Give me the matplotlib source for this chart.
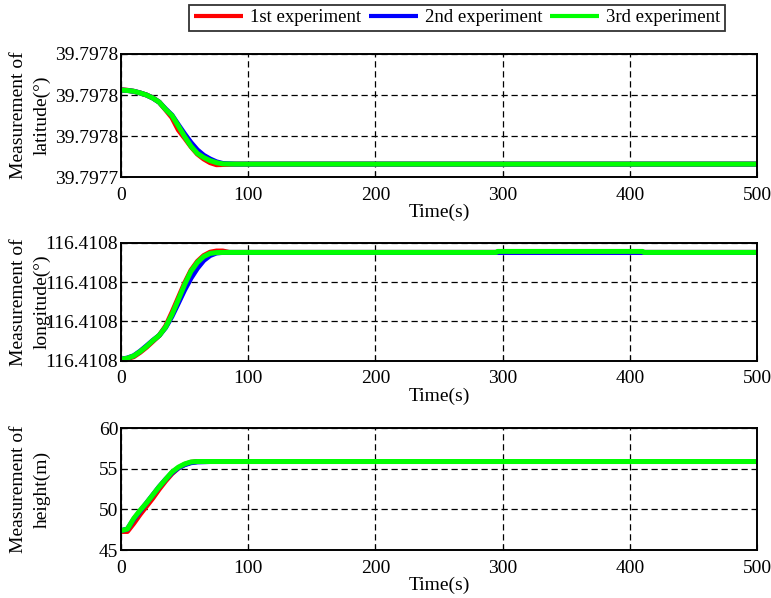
import numpy as np
import matplotlib
matplotlib.use("Agg")
import matplotlib.pyplot as plt
from matplotlib.ticker import FormatStrFormatter

plt.rcParams['font.family'] = ['Liberation Serif', 'DejaVu Serif']

labels = ['1st experiment', '2nd experiment', '3rd experiment']
colors = ['#ff0000', '#0000ff', '#00ff00']

# latitude (deg)
t_lat = [0, 5, 10, 15, 20, 25, 30, 35, 40, 45, 50, 55, 60, 65, 70, 75, 80, 90, 500]
lat_1 = [39.7977826, 39.7977823, 39.7977818, 39.7977810, 39.7977800, 39.7977786, 39.7977765,
         39.7977728, 39.7977690, 39.7977630, 39.7977590, 39.7977548, 39.7977512, 39.7977488,
         39.7977470, 39.7977460, 39.7977461, 39.7977463, 39.7977463]
lat_2 = [39.7977824, 39.7977822, 39.7977818, 39.7977810, 39.7977800, 39.7977785, 39.7977765,
         39.7977732, 39.7977702, 39.7977655, 39.7977610, 39.7977568, 39.7977532, 39.7977506,
         39.7977488, 39.7977474, 39.7977466, 39.7977463, 39.7977463]
lat_3 = [39.7977824, 39.7977822, 39.7977818, 39.7977810, 39.7977800, 39.7977785, 39.7977765,
         39.7977730, 39.7977700, 39.7977650, 39.7977597, 39.7977550, 39.7977515, 39.7977495,
         39.7977480, 39.7977470, 39.7977464, 39.7977463, 39.7977463]

# longitude (deg)
t_lon = [0, 5, 10, 15, 20, 25, 30, 35, 40, 45, 50, 55, 60, 65, 70, 75, 80, 85, 295, 296, 410, 411, 500]
lon_1 = [116.4107605, 116.4107610, 116.4107620, 116.4107642, 116.4107668, 116.4107698, 116.4107728,
         116.4107775, 116.4107845, 116.4107920, 116.4107995, 116.4108060, 116.4108105, 116.4108135,
         116.4108152, 116.4108158, 116.4108158, 116.4108151, 116.4108151, 116.4108151, 116.4108151,
         116.4108151, 116.4108151]
lon_2 = [116.4107607, 116.4107613, 116.4107625, 116.4107648, 116.4107675, 116.4107703, 116.4107728,
         116.4107768, 116.4107825, 116.4107892, 116.4107960, 116.4108020, 116.4108070, 116.4108110,
         116.4108135, 116.4108148, 116.4108151, 116.4108151, 116.4108151, 116.4108151, 116.4108151,
         116.4108151, 116.4108151]
lon_3 = [116.4107607, 116.4107612, 116.4107624, 116.4107646, 116.4107672, 116.4107702, 116.4107728,
         116.4107770, 116.4107834, 116.4107910, 116.4107988, 116.4108055, 116.4108100, 116.4108130,
         116.4108146, 116.4108150, 116.4108151, 116.4108151, 116.4108151, 116.4108156, 116.4108156,
         116.4108151, 116.4108151]

# height (m)
t_h = [0, 5, 10, 15, 20, 25, 30, 35, 40, 45, 50, 55, 60, 70, 500]
h_1 = [47.3, 47.3, 48.3, 49.4, 50.4, 51.4, 52.5, 53.5, 54.4, 55.1, 55.55, 55.8, 55.9, 55.9, 55.9]
h_2 = [47.4, 47.6, 48.8, 49.8, 50.8, 51.8, 52.8, 53.7, 54.5, 55.1, 55.5, 55.75, 55.85, 55.9, 55.9]
h_3 = [47.4, 47.6, 48.9, 49.9, 50.8, 51.8, 52.8, 53.7, 54.6, 55.2, 55.6, 55.85, 55.9, 55.9, 55.9]

lat_ticks = [39.79774, 39.79776, 39.79778, 39.79780]
lon_ticks = [116.41076, 116.41078, 116.41080, 116.41082]
h_ticks = [45, 50, 55, 60]
x_ticks = [0, 100, 200, 300, 400, 500]

panels = [
    (t_lat, [lat_1, lat_2, lat_3], lat_ticks, '%.4f', 'Measurement of\nlatitude(°)', [0.157, 0.704, 0.825, 0.2057]),
    (t_lon, [lon_1, lon_2, lon_3], lon_ticks, '%.4f', 'Measurement of\nlongitude(°)', [0.157, 0.397, 0.825, 0.197]),
    (t_h, [h_1, h_2, h_3], h_ticks, '%d', 'Measurement of\nheight(m)', [0.157, 0.080, 0.825, 0.204]),
]

fig = plt.figure(figsize=(7.71, 5.98), dpi=100)
handles = None
for t, series, yt, fmt, ylab, pos in panels:
    ax = fig.add_axes(pos)
    lines = []
    for s, c, lab in zip(series, colors, labels):
        ln, = ax.plot(t, s, color=c, lw=3.6, label=lab, solid_capstyle='butt')
        lines.append(ln)
    if handles is None:
        handles = lines
    ax.set_xlim(0, 500)
    ax.set_ylim(yt[0], yt[-1])
    ax.set_xticks(x_ticks)
    ax.set_yticks(yt)
    ax.yaxis.set_major_formatter(FormatStrFormatter(fmt))
    ax.grid(True, color='black', linestyle=(0, (5, 3)), linewidth=0.9)
    ax.tick_params(direction='in', labelsize=14, length=4, colors='black')
    ax.tick_params(axis='x', pad=7)
    ax.tick_params(axis='y', pad=2)
    for sp in ax.spines.values():
        sp.set_linewidth(1.4)
    ax.set_xlabel('Time(s)', fontsize=14, labelpad=0)
    ax.set_ylabel(ylab, fontsize=14, linespacing=1.5)
    ax.yaxis.set_label_coords(-0.11, 0.5)

leg = fig.legend(handles=handles, labels=labels, loc='upper center', ncol=3,
                 bbox_to_anchor=(0.593, 1.008), fontsize=13.5, frameon=True,
                 fancybox=False, edgecolor='black', handlelength=2.6,
                 handletextpad=0.4, columnspacing=0.4, borderpad=0.25)
leg.get_frame().set_linewidth(1.3)
for ln in leg.get_lines():
    ln.set_linewidth(3)

fig.savefig('out.png', dpi=100)
